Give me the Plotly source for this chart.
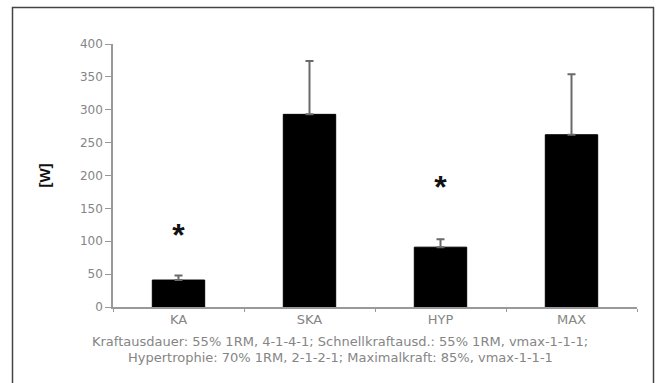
import plotly.graph_objects as go

categories = ["KA", "SKA", "HYP", "MAX"]
values = [41, 293, 91, 262]
errors_plus = [7, 81, 12, 92]
star_categories = ["KA", "HYP"]
star_y = [105, 178]
y_ticks = [0, 50, 100, 150, 200, 250, 300, 350, 400]
caption_lines = [
    "Kraftausdauer: 55% 1RM, 4-1-4-1; Schnellkraftausd.: 55% 1RM, vmax-1-1-1;",
    "Hypertrophie: 70% 1RM, 2-1-2-1; Maximalkraft: 85%, vmax-1-1-1",
]
y_title = "[W]"

W, H = 657, 383
L, R, T, B = 113, 20, 44, 76
pw, ph = W - L - R, H - T - B
GRAY_FONT = "DejaVu Sans"
GRAY = "#858585"

def px_x(p):
    return (p - L) / pw

def px_y(p):
    return (H - B - p) / ph

fig = go.Figure()
fig.add_trace(go.Bar(
    x=categories, y=values, width=0.4,
    marker=dict(color="black", line=dict(color="black", width=1)),
    error_y=dict(type="data", array=errors_plus, arrayminus=[0]*len(values),
                 symmetric=False, color="#6a6a6a", thickness=2, width=4),
    showlegend=False, hoverinfo="skip",
))
fig.add_trace(go.Scatter(
    x=star_categories, y=star_y, mode="text", text=["<b>*</b>"]*len(star_y),
    textfont=dict(size=32, color="#111111", family="Liberation Sans"),
    showlegend=False, hoverinfo="skip",
))

fig.update_layout(
    width=W, height=H,
    margin=dict(l=L, r=R, t=T, b=B),
    paper_bgcolor="white", plot_bgcolor="white",
    font=dict(family=GRAY_FONT, color=GRAY, size=12),
    xaxis=dict(showline=True, linecolor="#999999", linewidth=1.5,
               ticks="outside", tickson="boundaries", ticklen=3,
               tickcolor="#999999", tickfont=dict(size=13, color=GRAY),
               showgrid=False, zeroline=False),
    yaxis=dict(range=[0, 400], tickvals=y_ticks, showline=True,
               linecolor="#999999", linewidth=1.5, ticks="outside",
               ticklen=6, tickcolor="#999999",
               tickfont=dict(size=12, color=GRAY),
               showgrid=False, zeroline=False,
               title=dict(text="<b>" + y_title + "</b>", standoff=26,
                          font=dict(size=15, color="#111111",
                                    family="Liberation Sans"))),
    shapes=[dict(type="rect", xref="paper", yref="paper",
                 x0=px_x(12.5), x1=px_x(653.5), y0=px_y(395), y1=px_y(7.5),
                 line=dict(color="#444444", width=1.5))],
    annotations=[
        dict(text=caption_lines[0], xref="paper", yref="paper",
             x=px_x(340), y=px_y(341), showarrow=False,
             xanchor="center", yanchor="middle",
             font=dict(size=13, color=GRAY)),
        dict(text=caption_lines[1], xref="paper", yref="paper",
             x=px_x(340), y=px_y(357), showarrow=False,
             xanchor="center", yanchor="middle",
             font=dict(size=13, color=GRAY)),
    ],
)

fig.write_html("out.html", config={"displayModeBar": False},
               post_script="document.body.style.margin='0';document.body.style.padding='0';")
